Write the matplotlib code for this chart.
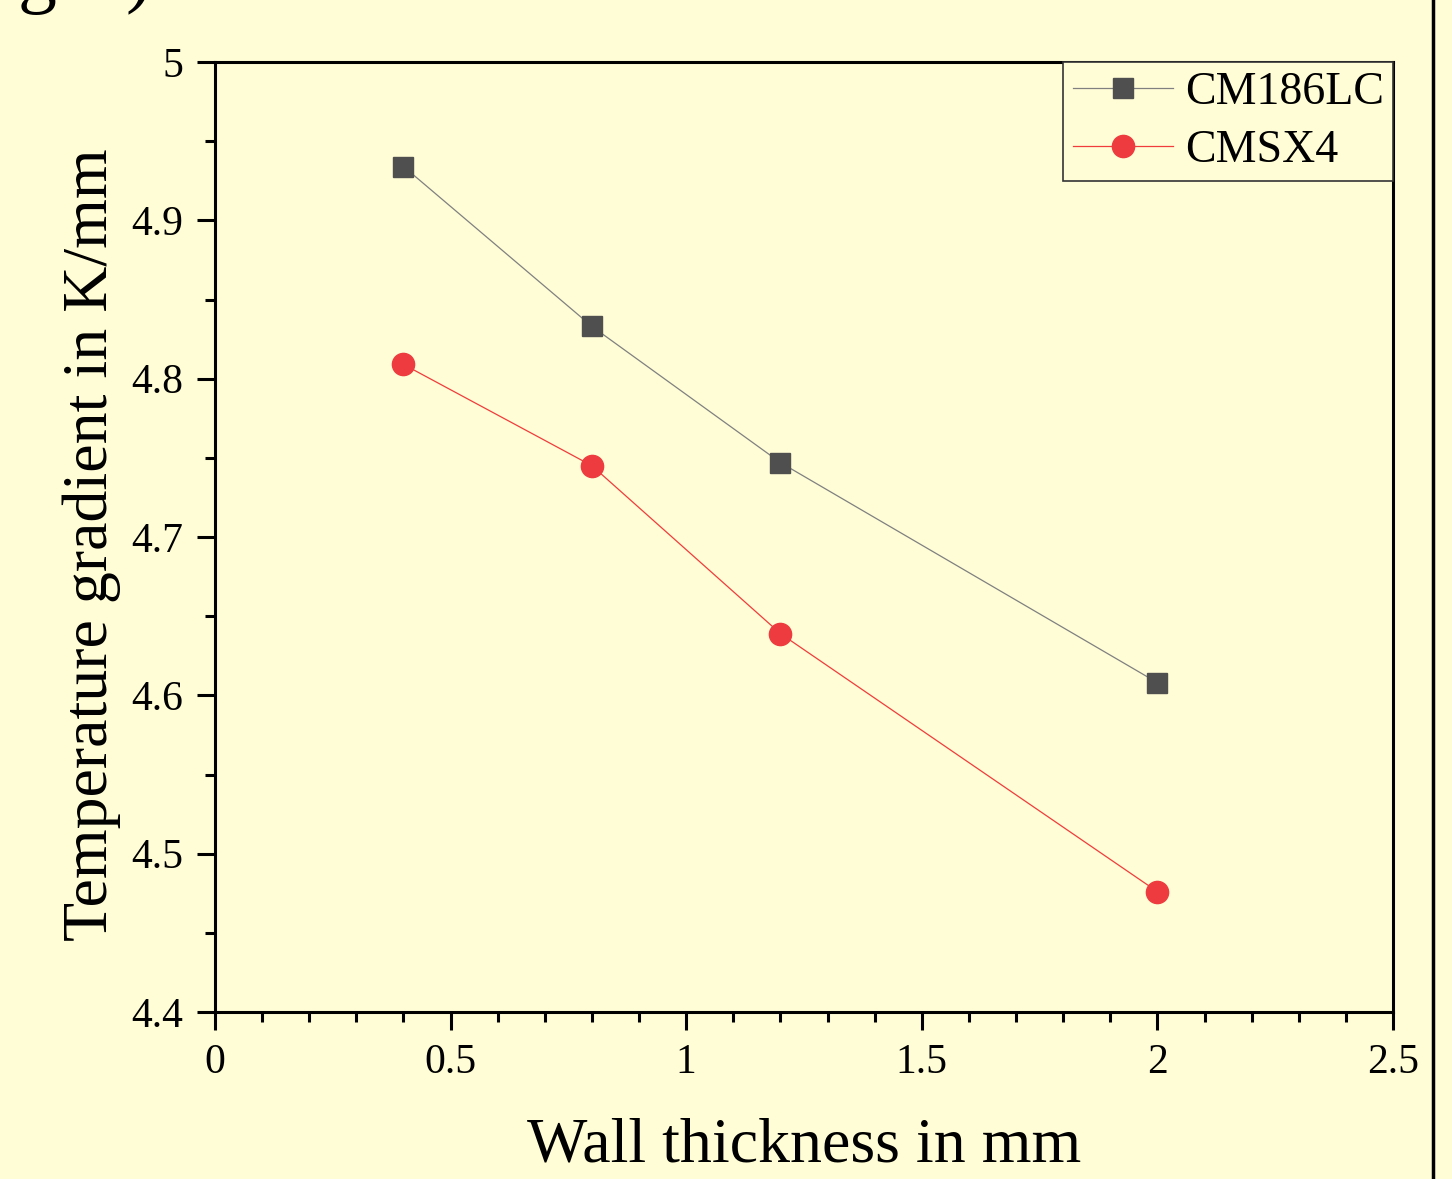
import matplotlib
matplotlib.use("Agg")
import matplotlib.pyplot as plt
from matplotlib.lines import Line2D
from matplotlib.ticker import MultipleLocator

wall = [0.4, 0.8, 1.2, 2.0]
cm186lc = [4.934, 4.833, 4.747, 4.608]
cmsx4 = [4.809, 4.745, 4.639, 4.476]
series_names = ["CM186LC", "CMSX4"]
xticks = [0, 0.5, 1, 1.5, 2, 2.5]
xticklabels = ["0", "0.5", "1", "1.5", "2", "2.5"]
yticks = [4.4, 4.5, 4.6, 4.7, 4.8, 4.9, 5.0]
yticklabels = ["4.4", "4.5", "4.6", "4.7", "4.8", "4.9", "5"]

bg = "#FFFDD6"
plt.rcParams['font.family'] = ['Liberation Serif', 'DejaVu Serif']

fig = plt.figure(figsize=(14.52, 11.79), dpi=100, facecolor=bg)
ax = fig.add_axes([215/1452, 1 - 1012/1179, (1393-215)/1452, (1012-62)/1179])
ax.set_facecolor(bg)

ax.plot(wall, cm186lc, color="#808080", lw=0.9, marker="s", ms=14,
        mfc="#4F4F4F", mec="#4F4F4F", label=series_names[0])
ax.plot(wall, cmsx4, color="#F03C3C", lw=0.9, marker="o", ms=16,
        mfc="#EE3B3F", mec="#EE3B3F", label=series_names[1])

ax.set_xlim(0, 2.5)
ax.set_ylim(4.4, 5.0)
ax.set_xticks(xticks)
ax.set_xticklabels(xticklabels)
ax.set_yticks(yticks)
ax.set_yticklabels(yticklabels)
ax.xaxis.set_minor_locator(MultipleLocator(0.1))
ax.yaxis.set_minor_locator(MultipleLocator(0.05))
ax.tick_params(which="major", direction="out", length=13, width=2.2, labelsize=30, pad=10)
ax.tick_params(which="minor", direction="out", length=7, width=2.2)
ax.tick_params(top=False, right=False, which="both")
for s in ax.spines.values():
    s.set_linewidth(2.2)

ax.set_xlabel("Wall thickness in mm", fontsize=46, labelpad=25)
ax.set_ylabel("Temperature gradient in K/mm", fontsize=46)
ax.yaxis.set_label_coords(-0.080, 0.492)

leg = ax.legend(loc="upper right", fontsize=33, frameon=True, fancybox=False,
                edgecolor="#333333", facecolor=bg, framealpha=1,
                borderaxespad=0.0, handlelength=2.2, handletextpad=0.25,
                borderpad=0.2, labelspacing=0.35)
leg.get_frame().set_linewidth(1.2)

fig.text(18/1452, 1 + 2/1179, "g", fontsize=56, ha="left", va="baseline")
fig.text(125/1452, 1 + 2/1179, ")", fontsize=56, ha="left", va="baseline")

fig.add_artist(Line2D([1433/1452, 1433/1452], [0, 1], transform=fig.transFigure,
                      color="black", lw=2.5))

fig.savefig("out.png", dpi=100, facecolor=bg)
